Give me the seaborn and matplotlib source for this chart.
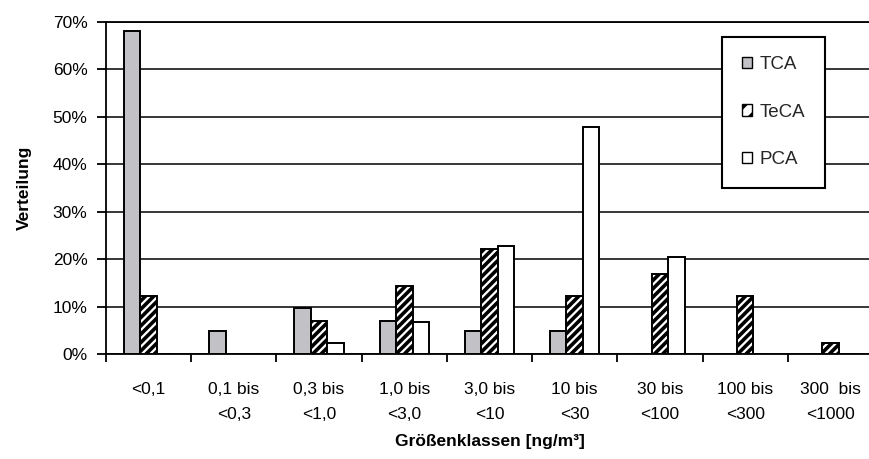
import matplotlib
matplotlib.use("Agg")
import matplotlib.pyplot as plt
from matplotlib.patches import Patch
from matplotlib.ticker import FixedLocator, FuncFormatter
import seaborn as sns
import pandas as pd

# ---- data ----
klassen = ["<0,1", "0,1 bis\n<0,3", "0,3 bis\n<1,0", "1,0 bis\n<3,0", "3,0 bis\n<10",
           "10 bis\n<30", "30 bis\n<100", "100 bis\n<300", "300  bis\n<1000"]
stoffe = ["TCA", "TeCA", "PCA"]
tca = [68.0, 5.0, 9.7, 7.0, 5.0, 5.0, 0.0, 0.0, 0.0]
teca = [12.2, 0.0, 7.0, 14.4, 22.2, 12.2, 17.0, 12.2, 2.4]
pca = [0.0, 0.0, 2.4, 6.8, 22.8, 47.8, 20.4, 0.0, 0.0]
y_ticks = [0, 10, 20, 30, 40, 50, 60, 70]

df = pd.DataFrame({
    "Klasse": klassen * 3,
    "Stoff": ["TCA"] * 9 + ["TeCA"] * 9 + ["PCA"] * 9,
    "Wert": tca + teca + pca,
})

sns.set_theme(style="white")
plt.rcParams["font.family"] = ["Liberation Sans", "DejaVu Sans"]
plt.rcParams["hatch.linewidth"] = 2.6

gray = "#c2c2c6"
palette = {"TCA": gray, "TeCA": "white", "PCA": "white"}

fig = plt.figure(figsize=(8.69, 4.59), dpi=100)
fig.patch.set_facecolor("white")
ax = fig.add_axes([106 / 869, 1 - 354.3 / 459, 767 / 869, (354.3 - 21.7) / 459])

sns.barplot(data=df, x="Klasse", y="Wert", hue="Stoff", order=klassen, hue_order=stoffe,
            palette=palette, width=0.58, edgecolor="black", linewidth=1.4,
            saturation=1, legend=False, ax=ax, zorder=3)

# hatch the TeCA bars
for bar in ax.containers[1]:
    bar.set_hatch("////")
    bar.set_edgecolor("black")

ax.set_xlim(-0.5, 8.5)
ax.set_ylim(0, 70)
ax.set_yticks(y_ticks)
ax.yaxis.set_major_formatter(FuncFormatter(lambda v, p: f"{v:.0f}%"))
ax.grid(axis="y", color="black", linewidth=1.1, zorder=0)
ax.set_axisbelow(True)

ax.spines["right"].set_visible(False)
ax.spines["top"].set_visible(True)
for s in ["left", "bottom", "top"]:
    ax.spines[s].set_color("black")
    ax.spines[s].set_linewidth(1.3)

# category boundary ticks
ax.xaxis.set_minor_locator(FixedLocator([i - 0.5 for i in range(10)]))
ax.tick_params(axis="x", which="major", length=0, pad=20, labelsize=12.5, colors="black")
ax.tick_params(axis="x", which="minor", length=6, width=1.3, direction="out", color="black", bottom=True)
ax.tick_params(axis="y", which="major", length=6.3, width=1.3, direction="out", pad=7,
               labelsize=12.5, colors="black", left=True)
for lab in ax.get_xticklabels():
    lab.set_linespacing(1.85)

ax.set_xlabel("Größenklassen [ng/m³]", fontsize=12.5, fontweight="bold", color="black")
ax.set_ylabel("Verteilung", fontsize=12.5, fontweight="bold", color="black")
ax.xaxis.set_label_coords(0.5, -0.24)
ax.yaxis.set_label_coords(-0.097, 0.5)

handles = [
    Patch(facecolor=gray, edgecolor="black", linewidth=1.0, label="TCA"),
    Patch(facecolor="white", edgecolor="black", hatch="//", linewidth=1.0, label="TeCA"),
    Patch(facecolor="white", edgecolor="black", linewidth=1.0, label="PCA"),
]
leg = ax.legend(handles=handles, loc="upper left", bbox_to_anchor=(722 / 869, 1 - 36.7 / 459),
                bbox_transform=fig.transFigure, borderaxespad=0, fontsize=13.5,
                handlelength=0.55, handleheight=0.55, handletextpad=0.4,
                labelspacing=1.62, borderpad=1.05, fancybox=False, frameon=True)
leg.get_frame().set_edgecolor("black")
leg.get_frame().set_linewidth(1.5)
leg.get_frame().set_alpha(1)
leg.set_zorder(5)

fig.savefig("out.png", dpi=100, facecolor="white")
